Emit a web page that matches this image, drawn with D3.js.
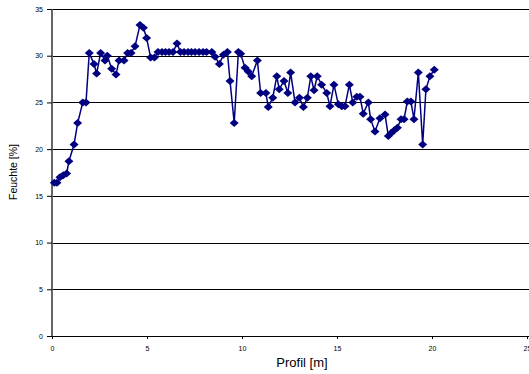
<!DOCTYPE html>
<html>
<head>
<meta charset="utf-8">
<script src="https://cdn.jsdelivr.net/npm/d3@7"></script>
<style>
	body { margin: 0; background: #fff; }
	svg { display: block; font-family: 'Liberation Sans', Arial, sans-serif; }
</style>
</head>
<body>
<div id="chart"></div>
<script>
/*
*	Messwerte: Profil [m] / Feuchte [%]
*/
var profil = [0.12, 0.26, 0.42, 0.59, 0.77, 0.89, 1.16, 1.35, 1.62, 1.79,
	1.96, 2.21, 2.35, 2.56, 2.79, 2.91, 3.14, 3.37, 3.53, 3.79,
	3.98, 4.16, 4.37, 4.63, 4.81, 4.98, 5.19, 5.39, 5.58, 5.79,
	5.97, 6.16, 6.37, 6.58, 6.76, 6.95, 7.16, 7.34, 7.53, 7.74,
	7.95, 8.13, 8.41, 8.58, 8.81, 9.02, 9.23, 9.37, 9.59, 9.81,
	9.93, 10.16, 10.33, 10.51, 10.81, 10.98, 11.26, 11.38, 11.62, 11.83,
	11.96, 12.21, 12.41, 12.56, 12.79, 13.02, 13.23, 13.44, 13.62, 13.79,
	13.96, 14.19, 14.46, 14.63, 14.84, 15.07, 15.25, 15.42, 15.65, 15.83,
	16.04, 16.21, 16.38, 16.65, 16.77, 17.0, 17.26, 17.53, 17.7, 17.84,
	18.0, 18.18, 18.37, 18.53, 18.7, 18.89, 19.05, 19.28, 19.51, 19.68,
	19.89, 20.12];

var feuchte = [16.4, 16.4, 17.0, 17.2, 17.4, 18.7, 20.5, 22.8, 25.0, 25.0,
	30.3, 29.1, 28.1, 30.3, 29.5, 30.0, 28.6, 28.0, 29.5, 29.5,
	30.3, 30.3, 31.0, 33.3, 33.0, 31.9, 29.8, 29.8, 30.4, 30.4,
	30.4, 30.4, 30.4, 31.3, 30.4, 30.4, 30.4, 30.4, 30.4, 30.4,
	30.4, 30.4, 30.4, 29.9, 29.1, 30.1, 30.4, 27.3, 22.8, 30.4,
	30.2, 28.7, 28.3, 27.8, 29.5, 26.0, 26.0, 24.5, 25.5, 27.8,
	26.4, 27.3, 26.0, 28.2, 25.0, 25.5, 24.5, 25.5, 27.8, 26.3,
	27.8, 26.9, 26.0, 24.6, 26.9, 24.8, 24.6, 24.6, 26.9, 25.0,
	25.6, 25.6, 23.8, 25.0, 23.2, 21.9, 23.3, 23.7, 21.4, 21.7,
	22.0, 22.3, 23.2, 23.2, 25.1, 25.1, 23.2, 28.2, 20.5, 26.4,
	27.8, 28.5];

var xTicks = [0, 5, 10, 15, 20, 25];
var yTicks = [0, 5, 10, 15, 20, 25, 30, 35];

function drawChart() {
	var data = profil.map(function (p, i) {
		return { x: p, y: feuchte[i] };
	});

	var width = 529, height = 374;
	var mLeft = 52, mRight = 527, mTop = 9, mBottom = 336;

	var x = d3.scaleLinear().domain([0, 25]).range([mLeft, mRight]);
	var y = d3.scaleLinear().domain([0, 35]).range([mBottom, mTop]);

	var svg = d3.select('#chart')
		.append('svg')
		.attr('width', width)
		.attr('height', height);

	// gridlines
	svg.append('g')
		.selectAll('line')
		.data(yTicks.filter(function (d) { return d > 0; }))
		.enter()
		.append('line')
		.attr('x1', mLeft)
		.attr('x2', width)
		.attr('y1', function (d) { return Math.round(y(d)) + 0.5; })
		.attr('y2', function (d) { return Math.round(y(d)) + 0.5; })
		.attr('stroke', '#000')
		.attr('stroke-width', 1);

	// x axis
	var xAxis = d3.axisBottom(x).tickValues(xTicks).tickSize(3).tickPadding(7);
	var gx = svg.append('g')
		.attr('transform', 'translate(0,' + mBottom + ')')
		.call(xAxis);
	gx.select('.domain').attr('d', 'M' + mLeft + ',0.5H' + width).attr('stroke', '#000');
	gx.selectAll('text').attr('font-size', 7).attr('fill', '#000');

	// y axis
	var yAxis = d3.axisLeft(y).tickValues(yTicks).tickSize(5).tickPadding(4);
	var gy = svg.append('g')
		.attr('transform', 'translate(' + mLeft + ',0)')
		.call(yAxis);
	gy.select('.domain').attr('d', 'M0,' + mTop + 'V' + mBottom).attr('stroke', '#666').attr('stroke-width', 2);
	gy.selectAll('text').attr('font-size', 7).attr('fill', '#000');

	// line
	var line = d3.line()
		.x(function (d) { return x(d.x); })
		.y(function (d) { return y(d.y); });

	svg.append('path')
		.datum(data)
		.attr('d', line)
		.attr('fill', 'none')
		.attr('stroke', '#000080')
		.attr('stroke-width', 1.5);

	// diamond markers
	svg.append('g')
		.selectAll('path')
		.data(data)
		.enter()
		.append('path')
		.attr('d', 'M0,-4L4.5,0L0,4L-4.5,0Z')
		.attr('transform', function (d) {
			return 'translate(' + x(d.x) + ',' + y(d.y) + ')';
		})
		.attr('fill', '#000080');

	// axis titles
	svg.append('text')
		.attr('x', 302)
		.attr('y', 367)
		.attr('text-anchor', 'middle')
		.attr('font-size', 13)
		.text('Profil [m]');

	svg.append('text')
		.attr('transform', 'translate(17,172) rotate(-90)')
		.attr('text-anchor', 'middle')
		.attr('font-size', 10)
		.attr('textLength', 56)
		.attr('lengthAdjust', 'spacingAndGlyphs')
		.text('Feuchte [%]');
}

drawChart();
</script>
</body>
</html>
